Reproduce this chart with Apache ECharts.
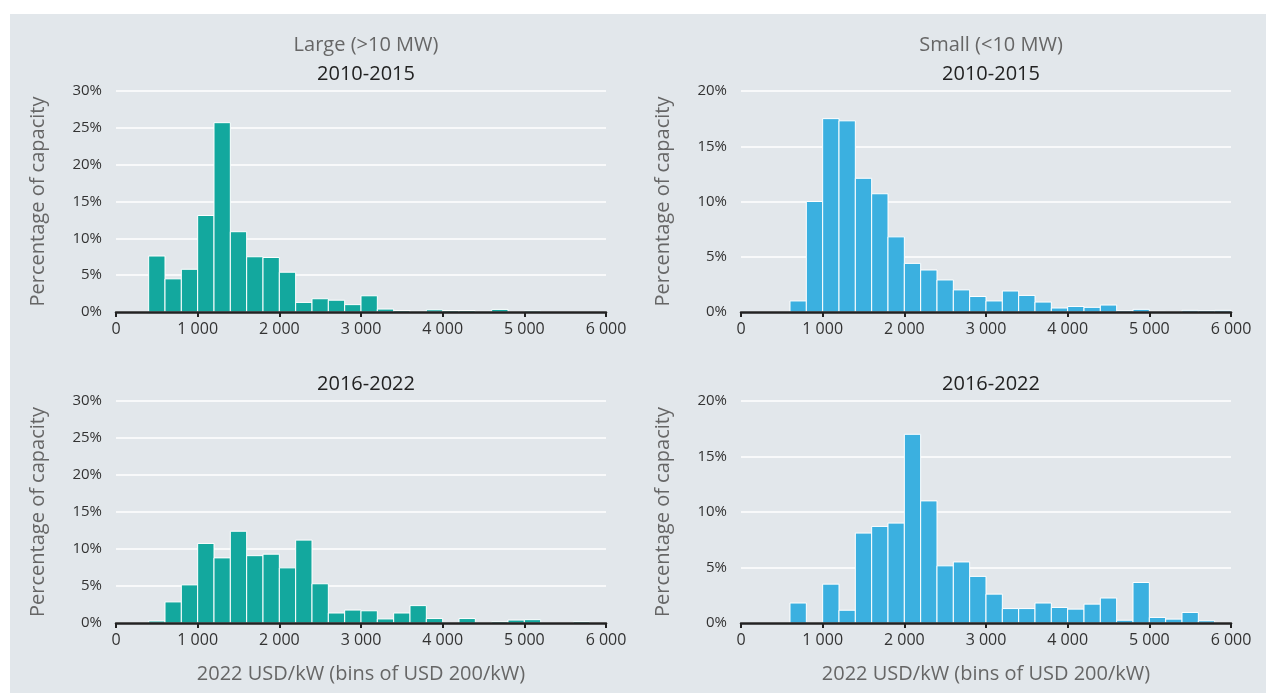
<!DOCTYPE html>
<html>
<head>
<meta charset="utf-8">
<script src="https://cdn.jsdelivr.net/npm/echarts@6/dist/echarts.min.js"></script>
<style>
  html, body { margin: 0; padding: 0; background: #fff; }
  #chart { width: 1266px; height: 693px; }
</style>
</head>
<body>
<div id="chart"></div>
<script>
// bins of USD 200/kW, 0 to 6000
const binWidth = 200;

// percentage of capacity per bin
const largeEarly = [0, 0, 7.6, 4.5, 5.8, 13.1, 25.7, 10.9, 7.5, 7.4, 5.4, 1.3, 1.8, 1.6, 1.0, 2.2, 0.4, 0.2, 0.1, 0.3, 0.2, 0.2, 0.1, 0.35, 0, 0.15, 0, 0, 0.05, 0];
const smallEarly = [0, 0, 0, 1.0, 10.0, 17.5, 17.3, 12.1, 10.7, 6.8, 4.4, 3.8, 2.9, 2.0, 1.4, 1.0, 1.9, 1.5, 0.9, 0.36, 0.5, 0.42, 0.63, 0.12, 0.24, 0.06, 0, 0.15, 0.12, 0.15];
const largeLate = [0, 0, 0.27, 2.85, 5.15, 10.75, 8.8, 12.4, 9.1, 9.3, 7.45, 11.2, 5.3, 1.35, 1.75, 1.65, 0.55, 1.35, 2.35, 0.6, 0, 0.6, 0, 0.18, 0.4, 0.45, 0.05, 0, 0.18, 0];
const smallLate = [0, 0, 0, 1.8, 0, 3.5, 1.15, 8.1, 8.7, 9.0, 17.0, 11.0, 5.15, 5.5, 4.2, 2.6, 1.3, 1.3, 1.8, 1.4, 1.25, 1.7, 2.25, 0.25, 3.65, 0.5, 0.35, 0.95, 0.2, 0];

const groupTitles = ['Large (>10 MW)', 'Small (<10 MW)'];
const periodTitles = ['2010-2015', '2016-2022'];
const yMaxLarge = 30;
const yMaxSmall = 20;

const tealColor = '#13a89e';
const blueColor = '#3bb0e0';
const font = 'Open Sans';

const toBins = (values) => values.map((v, i) => [i * binWidth, (i + 1) * binWidth, v]).filter(d => d[2] > 0);

const fmtThousands = (v) => v >= 1000 ? Math.floor(v / 1000) + ' ' + String(v % 1000).padStart(3, '0') : String(v);

const panels = [
  { data: largeEarly, color: tealColor, max: yMaxLarge, grid: { left: 116, top: 91, width: 490, height: 221 }, xName: '' },
  { data: smallEarly, color: blueColor, max: yMaxSmall, grid: { left: 741, top: 91, width: 490, height: 221 }, xName: '' },
  { data: largeLate, color: tealColor, max: yMaxLarge, grid: { left: 116, top: 401, width: 490, height: 222 }, xName: '2022 USD/kW (bins of USD 200/kW)' },
  { data: smallLate, color: blueColor, max: yMaxSmall, grid: { left: 741, top: 401, width: 490, height: 222 }, xName: '2022 USD/kW (bins of USD 200/kW)' }
];

const titleStyle = (color) => ({ fontFamily: font, fontSize: 20, fontWeight: 'normal', color: color });

const chart = echarts.init(document.getElementById('chart'), null, { renderer: 'canvas' });

const option = {
  animation: false,
  textStyle: { fontFamily: font },
  graphic: [
    { type: 'rect', left: 10, top: 14, shape: { width: 1256, height: 679 }, style: { fill: '#e2e7eb' }, z: -10, silent: true }
  ],
  title: [
    { text: groupTitles[0], left: 361, top: 30, textAlign: 'center', textStyle: titleStyle('#666') },
    { text: periodTitles[0], left: 361, top: 59, textAlign: 'center', textStyle: titleStyle('#222') },
    { text: groupTitles[1], left: 986, top: 30, textAlign: 'center', textStyle: titleStyle('#666') },
    { text: periodTitles[0], left: 986, top: 59, textAlign: 'center', textStyle: titleStyle('#222') },
    { text: periodTitles[1], left: 361, top: 369, textAlign: 'center', textStyle: titleStyle('#222') },
    { text: periodTitles[1], left: 986, top: 369, textAlign: 'center', textStyle: titleStyle('#222') }
  ],
  grid: panels.map(p => Object.assign({ containLabel: false }, p.grid)),
  xAxis: panels.map((p, i) => ({
    type: 'value',
    gridIndex: i,
    z: 5,
    min: 0,
    max: 6000,
    interval: 1000,
    name: p.xName,
    nameLocation: 'middle',
    nameGap: 41,
    nameTextStyle: { fontSize: 20, color: '#666' },
    axisLine: { show: true, lineStyle: { color: '#222', width: 2.5 } },
    axisTick: { show: true, length: 5, lineStyle: { color: '#222', width: 2 } },
    axisLabel: { fontSize: 16, color: '#333', margin: 9, formatter: fmtThousands },
    splitLine: { show: false }
  })),
  yAxis: panels.map((p, i) => ({
    type: 'value',
    gridIndex: i,
    min: 0,
    max: p.max,
    interval: 5,
    name: 'Percentage of capacity',
    nameLocation: 'middle',
    nameGap: 68,
    nameTextStyle: { fontSize: 20, color: '#666' },
    axisLine: { show: false },
    axisTick: { show: false },
    axisLabel: { fontSize: 15, color: '#333', margin: 14, formatter: '{value}%' },
    splitLine: { show: true, lineStyle: { color: '#ffffff', width: 1.5 } }
  })),
  series: panels.map((p, i) => ({
    type: 'custom',
    xAxisIndex: i,
    yAxisIndex: i,
    z: 2,
    data: toBins(p.data),
    encode: { x: [0, 1], y: 2 },
    renderItem: (params, api) => {
      const start = api.coord([api.value(0), api.value(2)]);
      const end = api.coord([api.value(1), 0]);
      return {
        type: 'rect',
        shape: { x: start[0], y: start[1], width: end[0] - start[0], height: end[1] - start[1] },
        style: { fill: p.color, stroke: '#ffffff', lineWidth: 1 }
      };
    }
  }))
};

chart.setOption(option);
</script>
</body>
</html>
